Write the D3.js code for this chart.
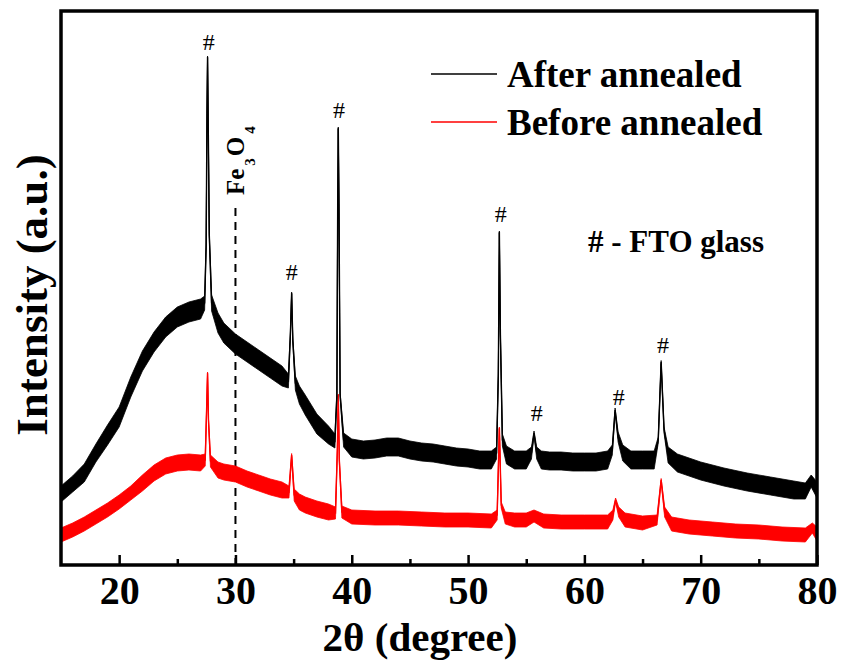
<!DOCTYPE html>
<html>
<head>
<meta charset="utf-8">
<script src="https://cdn.jsdelivr.net/npm/d3@7"></script>
<style>
  html, body { margin: 0; padding: 0; background: #fff; }
  svg { display: block; }
  text { font-family: "Liberation Serif", "Times New Roman", serif; }
</style>
</head>
<body>
<svg id="chart" width="842" height="661"></svg>
<script>
// ---- Data (2θ in degrees, intensity in a.u., noise half-band in a.u.) ----
const afterAnnealed = [
  [15.0,71,8],[16.0,81,8],[17.0,92,9],[18.0,112,9],[19.0,130,10],[20.0,148,10],
  [21.0,178,10],[22.0,204,10],[23.0,223,10],[24.0,238,10],[25.0,248,10],[26.0,253,10],
  [27.0,256,10],[27.35,262,7],[27.48,320,2],[27.55,450,1.5],[27.6,508,1],[27.66,440,1.5],
  [27.75,330,2],[27.95,262,8],[28.5,242,10],[29.0,232,10],[30.0,221,10],[31.0,213,10],
  [32.0,205,10],[33.0,197,10],[34.0,189,10],[34.55,184,7],[34.72,230,2],[34.83,272,1],
  [34.93,225,2],[35.15,182,7],[35.5,170,9],[36.0,160,10],[37.0,141,10],[38.0,130,9],
  [38.55,124,7],[38.72,170,2],[38.79,360,1.5],[38.84,437,1],[38.9,360,1.5],[39.0,170,2],
  [39.3,125,7],[40.0,117,9],[41.0,115,9],[42.0,116,9],[43.0,118,9],[44.0,118,9],
  [45.0,115,9],[46.0,113,9],[47.0,112,9],[48.0,110,9],[49.0,108,9],[50.0,107,9],
  [51.0,105,9],[52.0,105,9],[52.45,112,6],[52.6,190,1.5],[52.69,333,1],[52.78,230,1.5],
  [52.95,125,6],[53.3,110,9],[54.0,105,9],[55.0,105,9],[55.45,112,6],[55.67,132,2],
  [55.9,112,6],[56.3,105,9],[57.0,104,9],[58.0,104,9],[59.0,103,9],[60.0,103,9],
  [61.0,103,9],[62.0,105,9],[62.4,115,5],[62.64,155,2],[62.9,128,5],[63.3,112,8],
  [64.0,105,9],[65.0,105,9],[66.0,105,9],[66.35,125,3],[66.6,203,1.5],[66.85,135,3],
  [67.2,110,8],[68.0,102,9],[69.0,98,9],[70.0,94,9],[72.0,88,9],[74.0,83,9],
  [76.0,79,9],[78.0,75,9],[79.0,74,8],[79.5,84,6],[80.0,75,8]
];
const beforeAnnealed = [
  [15.0,30,7],[16.0,35,7],[17.0,41,7],[18.0,48,7],[19.0,55,7],[20.0,63,7],
  [21.0,72,7],[22.0,82,8],[23.0,92,8],[24.0,99,8],[25.0,102,8],[26.0,103,8],
  [27.0,102,8],[27.4,105,6],[27.53,160,1.5],[27.6,192,1],[27.68,145,1.5],[27.85,104,6],
  [28.5,95,8],[29.0,93,8],[30.0,91,8],[31.0,86,8],[32.0,82,8],[33.0,78,8],
  [34.0,75,8],[34.6,73,6],[34.83,110,1.5],[35.05,70,6],[35.5,63,8],[36.0,60,8],
  [37.0,56,8],[38.0,53,8],[38.6,52,6],[38.76,115,1.5],[38.84,170,1],[38.93,105,1.5],
  [39.15,53,6],[40.0,48,7],[42.0,47,7],[44.0,47,7],[46.0,46,7],[48.0,45,7],
  [50.0,45,7],[52.0,44,7],[52.5,50,5],[52.69,137,1],[52.85,60,3],[53.2,47,6],
  [54.0,45,7],[55.0,45,7],[55.67,49,6],[56.5,44,7],[58.0,43,7],[60.0,43,7],
  [62.0,43,7],[62.45,50,5],[62.68,65,2],[62.95,53,5],[63.5,45,7],[65.0,42,7],
  [66.25,45,5],[66.6,85,1.5],[66.9,53,5],[67.5,41,7],[69.0,38,7],[71.0,36,7],
  [73.0,34,7],[75.0,33,7],[77.0,31,7],[79.0,30,7],[79.6,37,5],[80.0,31,7]
];
const seriesNames = ["After annealed", "Before annealed"];
const seriesColors = ["#000000", "#ff0000"];
const xDomain = [15, 80];
const yDomain = [0, 554];
const majorTicks = [20, 30, 40, 50, 60, 70, 80];
const minorTicks = [25, 35, 45, 55, 65, 75];
const peakLabelX = [27.7, 34.85, 38.9, 52.8, 55.9, 62.95, 66.75];
const peakLabelY = [515, 285, 447, 343, 144, 160, 212];
const fe3o4X = 30;
const fe3o4Top = 357;

// ---- Layout ----
const svg = d3.select("#chart");
const L = 61, R = 817, T = 11, B = 565;
const x = d3.scaleLinear().domain(xDomain).range([L, R]);
const y = d3.scaleLinear().domain(yDomain).range([B, T]);

svg.append("defs").append("clipPath").attr("id", "plotclip")
  .append("rect").attr("x", L).attr("y", T).attr("width", R - L).attr("height", B - T);

const plot = svg.append("g").attr("clip-path", "url(#plotclip)");

// Fe3O4 reference dashed line
plot.append("line")
  .attr("x1", x(fe3o4X)).attr("x2", x(fe3o4X))
  .attr("y1", y(fe3o4Top)).attr("y2", B)
  .attr("stroke", "#000").attr("stroke-width", 2).attr("stroke-dasharray", "8,6");

const band = d3.area().x(d => x(d[0])).y0(d => y(d[1] - d[2])).y1(d => y(d[1] + d[2]));
const mid = d3.line().x(d => x(d[0])).y(d => y(d[1]));

[beforeAnnealed, afterAnnealed].forEach((data, i) => {
  const c = i === 0 ? seriesColors[1] : seriesColors[0];
  plot.append("path").datum(data).attr("d", band).attr("fill", c)
    .attr("stroke", c).attr("stroke-width", 0.8).attr("stroke-linejoin", "round");
  plot.append("path").datum(data).attr("d", mid).attr("fill", "none")
    .attr("stroke", c).attr("stroke-width", 1.4);
});

// Axes (ticks inward)
const axisG = svg.append("g").attr("transform", `translate(0,${B})`);
axisG.call(d3.axisBottom(x).tickValues(majorTicks).tickSize(-10).tickFormat(d3.format("d")));
axisG.select(".domain").remove();
axisG.selectAll(".tick line").attr("stroke-width", 2.5);
axisG.selectAll(".tick text").attr("font-size", 40).attr("font-weight", "bold")
  .attr("font-family", "Liberation Serif, serif").attr("fill", "#000").attr("dy", 0).attr("y", 39);
const minorG = svg.append("g").attr("transform", `translate(0,${B})`);
minorG.call(d3.axisBottom(x).tickValues(minorTicks).tickSize(-6).tickFormat(""));
minorG.select(".domain").remove();
minorG.selectAll(".tick line").attr("stroke-width", 2.5);

// Frame
svg.append("rect").attr("x", L).attr("y", T).attr("width", R - L).attr("height", B - T)
  .attr("fill", "none").attr("stroke", "#000").attr("stroke-width", 3.5);

// Axis titles
svg.append("text").attr("x", 420).attr("y", 651).attr("text-anchor", "middle")
  .attr("font-size", 41).attr("font-weight", "bold").text("2θ (degree)");
svg.append("text").attr("transform", "translate(47,295) rotate(-90)").attr("text-anchor", "middle")
  .attr("font-size", 45).attr("font-weight", "bold").text("Intensity (a.u.)");

// Peak labels
peakLabelX.forEach((px, i) => {
  svg.append("text").attr("x", x(px)).attr("y", y(peakLabelY[i])).attr("text-anchor", "middle")
    .attr("font-size", 24).text("#");
});

// Fe3O4 label
const fe = svg.append("text").attr("transform", `translate(244,195) rotate(-90)`)
  .attr("font-size", 25).attr("font-weight", "bold");
fe.append("tspan").text("Fe");
fe.append("tspan").attr("font-size", 15).attr("dx", 3).attr("dy", 11).text("3");
fe.append("tspan").attr("dx", 2).attr("dy", -11).text("O");
fe.append("tspan").attr("font-size", 15).attr("dx", 3).attr("dy", 11).text("4");

// Legend
const legY = [74, 122];
seriesNames.forEach((n, i) => {
  svg.append("line").attr("x1", 431).attr("x2", 497).attr("y1", legY[i]).attr("y2", legY[i])
    .attr("stroke", seriesColors[i]).attr("stroke-width", 1.5);
  svg.append("text").attr("x", 507).attr("y", legY[i] + 13).attr("font-size", 37)
    .attr("font-weight", "bold").text(n);
});
svg.append("text").attr("x", 588).attr("y", 252).attr("font-size", 31)
  .attr("font-weight", "bold").text("# - FTO glass");
</script>
</body>
</html>
